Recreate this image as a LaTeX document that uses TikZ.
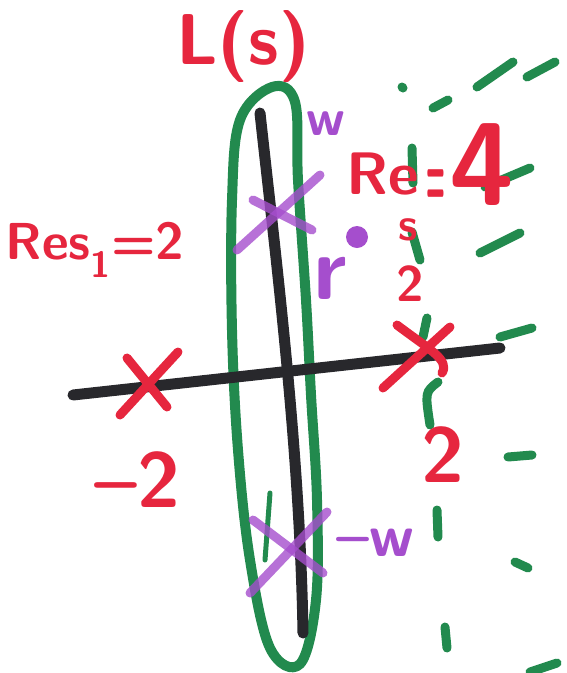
\documentclass[tikz,border=0pt]{standalone}
\definecolor{penred}{RGB}{230,38,62}
\definecolor{pengreen}{RGB}{34,138,78}
\definecolor{penpurple}{RGB}{165,78,205}
\definecolor{penblack}{RGB}{40,40,44}
\tikzset{
    pen/.style={line width=10pt,line cap=round,line join=round},
    dashpen/.style={pen,pengreen,line width=9pt},
    hand/.style={font=\sffamily\bfseries\fontsize{#1}{#1}\selectfont,inner sep=0pt},
    markx/.style={pen,line width=9pt,#1}
}
\begin{document}
\begin{tikzpicture}[x=1pt,y=-1pt]
    \useasboundingbox (0,0) rectangle (566,673);
    % contour L(s)
    \draw[pen,pengreen] plot[smooth cycle,tension=.6] coordinates {(272,87) (295,102) (298,180) (306,300)
        (311,395) (317,500) (316,600) (300,664) (270,648) (250,560) (238,450) (232,330) (232,200) (240,120)};
    \draw[pen,pengreen,line width=5pt] (270,493) -- (265,560);
    % axes
    \draw[pen,penblack,line width=11pt] (73,395) -- (500,348);
    \draw[pen,penblack,line width=11pt] (260,113) .. controls (276,260) and (300,450) .. (303,633);
    % green dashes
    \foreach \xa/\ya/\xb/\yb in {402/87/403/88, 433/108/448/100, 412/148/413/183, 412/232/420/260,
        427/318/423/337, 437/510/438/537, 445/627/447/648,
        477/87/513/62, 527/77/555/62, 485/187/530/168, 480/253/520/233, 500/337/532/328,
        508/457/532/455, 515/562/528/568, 530/672/557/663}
        \draw[dashpen] (\xa,\ya) -- (\xb,\yb);
    \draw[dashpen] (438,382) .. controls (425,392) .. (430,425);
    % poles
    \draw[markx=penred] (127,358) -- (167,407);
    \draw[markx=penred] (178,352) -- (120,415);
    \draw[markx=penred] (397,325) .. controls (430,350) and (450,360) .. (442,373);
    \draw[markx=penred] (450,327) -- (383,388);
    \draw[markx=penpurple,opacity=.8] (237,250) -- (320,175);
    \draw[markx=penpurple,opacity=.8] (253,200) -- (312,230);
    \draw[markx=penpurple,opacity=.8] (253,520) -- (323,573);
    \draw[markx=penpurple,opacity=.8] (250,593) -- (327,512);
    \fill[penpurple] (357,237) circle (11);
    % labels
    \node[hand=72,penred] (title) at (243,46) {L(s)};
    \node[hand=52,penred] (resl) at (95,250) {Res\textsubscript{1}=2};
    \node[hand=60,penred] (rer) at (383,174) {Re};
    \node[hand=44,penred] (eqr) at (436,188) {\scalebox{.5}[2]{=}};
    \node[hand=118,penred] (four) at (482,165) {4};
    \node[hand=46,penred] (sr) at (408,230) {s};
    \node[hand=50,penred] (subr) at (410,284) {2};
    \node[hand=78,penred] (mtwo) at (137,480) {\textendash2};
    \node[hand=78,penred] (two) at (443,455) {2};
    \node[hand=52,penpurple] (w) at (326,124) {w};
    \node[hand=90,penpurple] (r) at (330,278) {r};
    \node[hand=60,penpurple] (mw) at (375,543) {\textendash w};
\end{tikzpicture}
\end{document}
